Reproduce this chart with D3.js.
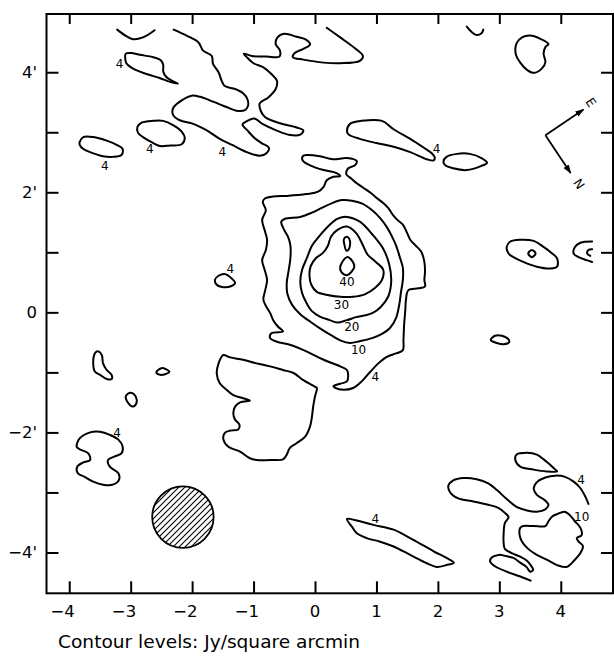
<!DOCTYPE html>
<html><head><meta charset="utf-8">
<script src="https://cdn.jsdelivr.net/npm/d3@7"></script>
<style>body{margin:0;background:#fff}svg{display:block}</style>
</head><body>
<svg id="chart" width="614" height="656"></svg>
<script>
// ---- axes ----
const xTicks = [-4,-3,-2,-1,0,1,2,3,4];
const xTickLabels = ["\u22124","\u22123","\u22122","\u22121","0","1","2","3","4"];
const yTicks = [-4,-3,-2,-1,0,1,2,3,4];
const yLabelValues = [4,2,0,-2,-4];
const yTickLabels = ["4'","2'","0","\u22122'","\u22124'"];
const caption = "Contour levels: Jy/square arcmin";

// ---- contours (offsets in arcmin) ----
const c4TopArc = [[-3.22,4.71],[-3.07,4.60],[-2.96,4.55],[-2.80,4.58],[-2.61,4.70]];
const c4TopLeftBlob = [[-3.08,4.31],[-2.99,4.32],[-2.85,4.29],[-2.63,4.25],[-2.51,4.20],[-2.47,4.12],[-2.47,4.01],[-2.42,3.92],[-2.33,3.86],[-2.23,3.81],[-2.36,3.84],[-2.52,3.90],[-2.74,3.97],[-2.96,4.06],[-3.07,4.15],[-3.09,4.25]];
const c4LeftBlob = [[-3.83,2.84],[-3.77,2.92],[-3.61,2.92],[-3.39,2.86],[-3.23,2.79],[-3.13,2.72],[-3.15,2.62],[-3.29,2.59],[-3.45,2.60],[-3.64,2.66],[-3.77,2.72],[-3.83,2.79]];
const c4MidBlob = [[-2.89,3.09],[-2.82,3.16],[-2.63,3.19],[-2.47,3.19],[-2.31,3.12],[-2.17,3.01],[-2.12,2.90],[-2.17,2.80],[-2.36,2.78],[-2.52,2.77],[-2.63,2.82],[-2.80,2.92],[-2.88,2.99]];
const c4Ridge = [[-2.30,4.71],[-2.09,4.61],[-1.90,4.50],[-1.82,4.36],[-1.68,4.27],[-1.66,4.14],[-1.57,4.00],[-1.52,3.86],[-1.47,3.77],[-1.30,3.72],[-1.17,3.65],[-1.10,3.55],[-1.09,3.44],[-1.14,3.37],[-1.28,3.36],[-1.44,3.42],[-1.66,3.51],[-1.87,3.59],[-2.01,3.61],[-2.20,3.51],[-2.31,3.40],[-2.31,3.29],[-2.20,3.20],[-1.98,3.14],[-1.76,3.03],[-1.55,2.89],[-1.33,2.78],[-1.11,2.67],[-0.90,2.61],[-0.79,2.65],[-0.75,2.74],[-0.87,2.82],[-0.98,2.90],[-1.10,3.03],[-1.18,3.13],[-1.10,3.19],[-0.99,3.23],[-0.84,3.13],[-0.65,3.04],[-0.43,2.96],[-0.24,2.96],[-0.19,3.03],[-0.30,3.08],[-0.57,3.15],[-0.81,3.25],[-0.88,3.35],[-0.90,3.48],[-0.76,3.58],[-0.64,3.72],[-0.62,3.86],[-0.71,3.97],[-0.84,4.08],[-1.00,4.15],[-1.10,4.24],[-1.16,4.31],[-1.03,4.27],[-0.79,4.26],[-0.58,4.26],[-0.57,4.36],[-0.64,4.47],[-0.61,4.58],[-0.50,4.64],[-0.30,4.59],[-0.14,4.54],[-0.08,4.46],[-0.19,4.39],[-0.34,4.31],[-0.36,4.25],[-0.19,4.21],[0.14,4.16],[0.41,4.15],[0.73,4.19],[0.78,4.27],[0.65,4.40],[0.41,4.58],[0.19,4.74]];
const c4RidgeEast = [[0.52,3.03],[0.57,3.14],[0.76,3.19],[1.09,3.19],[1.28,3.05],[1.55,2.89],[1.76,2.75],[1.90,2.65],[1.95,2.58],[1.93,2.53],[1.82,2.55],[1.55,2.67],[1.28,2.76],[1.00,2.82],[0.73,2.89],[0.54,2.97]];
const c4EastOval = [[2.09,2.51],[2.14,2.59],[2.31,2.64],[2.52,2.64],[2.71,2.57],[2.80,2.49],[2.71,2.44],[2.47,2.37],[2.25,2.40],[2.12,2.45]];
const c4NorthEastBlob = [[3.28,4.48],[3.37,4.58],[3.50,4.61],[3.66,4.56],[3.80,4.47],[3.75,4.42],[3.72,4.31],[3.75,4.17],[3.69,4.06],[3.56,3.99],[3.45,4.04],[3.34,4.16],[3.27,4.29]];
const c4TopHook = [[2.47,4.76],[2.55,4.67],[2.63,4.62],[2.71,4.65],[2.74,4.71]];
const c4Core = [[-0.20,2.60],[-0.13,2.62],[0.08,2.60],[0.29,2.55],[0.52,2.57],[0.68,2.52],[0.65,2.45],[0.54,2.40],[0.51,2.30],[0.59,2.23],[0.68,2.15],[0.78,2.08],[0.92,1.98],[1.01,1.90],[1.11,1.82],[1.19,1.74],[1.27,1.62],[1.34,1.54],[1.43,1.46],[1.50,1.32],[1.55,1.21],[1.64,1.11],[1.73,1.01],[1.78,0.84],[1.79,0.67],[1.78,0.54],[1.79,0.43],[1.68,0.40],[1.52,0.37],[1.48,0.21],[1.47,0.04],[1.45,-0.21],[1.44,-0.46],[1.43,-0.63],[1.33,-0.68],[1.17,-0.74],[1.03,-0.85],[0.90,-0.99],[0.76,-1.15],[0.62,-1.26],[0.46,-1.29],[0.33,-1.26],[0.30,-1.23],[0.41,-1.19],[0.52,-1.15],[0.54,-1.07],[0.52,-0.96],[0.41,-0.90],[0.14,-0.79],[-0.14,-0.65],[-0.41,-0.54],[-0.62,-0.49],[-0.73,-0.43],[-0.71,-0.35],[-0.52,-0.32],[-0.60,-0.24],[-0.68,-0.13],[-0.73,-0.01],[-0.79,0.09],[-0.84,0.21],[-0.81,0.37],[-0.78,0.54],[-0.82,0.71],[-0.86,0.87],[-0.80,1.04],[-0.78,1.21],[-0.82,1.37],[-0.86,1.54],[-0.80,1.70],[-0.85,1.84],[-0.81,1.90],[-0.68,1.93],[-0.46,1.94],[-0.14,1.97],[0.05,2.01],[0.14,2.09],[0.19,2.20],[0.30,2.26],[0.41,2.27],[0.35,2.32],[0.14,2.37],[-0.08,2.45],[-0.20,2.53]];
const c10Core = [[-0.55,1.51],[-0.49,1.56],[-0.24,1.59],[-0.05,1.66],[0.11,1.74],[0.28,1.82],[0.44,1.87],[0.60,1.86],[0.77,1.81],[0.93,1.70],[1.06,1.57],[1.17,1.42],[1.25,1.27],[1.32,1.11],[1.38,0.92],[1.43,0.74],[1.43,0.54],[1.40,0.34],[1.37,0.12],[1.32,-0.09],[1.22,-0.26],[1.09,-0.36],[0.93,-0.43],[0.73,-0.48],[0.57,-0.51],[0.42,-0.47],[0.26,-0.38],[0.10,-0.28],[-0.07,-0.16],[-0.24,-0.03],[-0.37,0.12],[-0.45,0.31],[-0.46,0.49],[-0.43,0.69],[-0.40,0.91],[-0.40,1.11],[-0.44,1.26],[-0.50,1.37]];
const c20Core = [[0.52,1.59],[0.73,1.51],[0.94,1.29],[1.11,1.06],[1.21,0.79],[1.24,0.51],[1.19,0.26],[1.07,0.09],[0.94,-0.01],[0.81,-0.05],[0.67,-0.08],[0.52,-0.13],[0.36,-0.17],[0.24,-0.13],[0.08,-0.07],[-0.05,0.02],[-0.14,0.16],[-0.21,0.32],[-0.24,0.51],[-0.21,0.71],[-0.13,0.91],[-0.05,1.11],[0.07,1.27],[0.24,1.46],[0.37,1.56]];
const c30Core = [[0.52,1.43],[0.67,1.32],[0.77,1.14],[0.85,0.97],[0.99,0.84],[1.11,0.71],[1.09,0.54],[0.98,0.41],[0.81,0.30],[0.62,0.26],[0.41,0.26],[0.20,0.29],[0.03,0.34],[-0.06,0.46],[-0.09,0.61],[-0.07,0.77],[0.02,0.91],[0.13,0.99],[0.21,1.11],[0.26,1.26],[0.36,1.37]];
const c40Peak = [[0.41,0.76],[0.52,0.92],[0.61,0.85],[0.64,0.76],[0.58,0.66],[0.52,0.62],[0.43,0.67]];
const c40Spur = [[0.47,1.22],[0.52,1.26],[0.56,1.22],[0.57,1.12],[0.54,1.04],[0.51,1.03],[0.48,1.12]];
const c4SouthLobe = [[-1.49,-0.71],[-1.38,-0.75],[-1.17,-0.79],[-0.95,-0.85],[-0.73,-0.90],[-0.52,-0.96],[-0.35,-1.01],[-0.19,-1.13],[0.00,-1.24],[0.03,-1.26],[0.00,-1.40],[-0.03,-1.57],[-0.05,-1.74],[-0.08,-1.90],[-0.16,-2.07],[-0.30,-2.18],[-0.41,-2.26],[-0.46,-2.37],[-0.52,-2.45],[-0.68,-2.46],[-0.95,-2.46],[-1.06,-2.43],[-1.22,-2.32],[-1.41,-2.24],[-1.49,-2.12],[-1.47,-2.01],[-1.38,-1.97],[-1.25,-1.95],[-1.23,-1.87],[-1.30,-1.79],[-1.33,-1.68],[-1.30,-1.57],[-1.22,-1.50],[-1.06,-1.47],[-1.17,-1.43],[-1.33,-1.38],[-1.44,-1.29],[-1.55,-1.18],[-1.60,-1.01],[-1.57,-0.85],[-1.52,-0.74]];
const c4WestSpotA = [[-3.58,-0.68],[-3.53,-0.65],[-3.47,-0.71],[-3.45,-0.85],[-3.39,-0.96],[-3.31,-1.04],[-3.31,-1.11],[-3.39,-1.11],[-3.50,-1.04],[-3.58,-0.99],[-3.61,-0.85]];
const c4WestSpotB = [[-2.58,-0.99],[-2.50,-0.93],[-2.42,-0.95],[-2.37,-0.99],[-2.44,-1.03],[-2.52,-1.04],[-2.58,-1.01]];
const c4WestSpotC = [[-3.08,-1.40],[-3.01,-1.34],[-2.95,-1.36],[-2.90,-1.46],[-2.92,-1.54],[-2.97,-1.57],[-3.04,-1.51]];
const c4WestPair = [[-3.88,-2.24],[-3.83,-2.10],[-3.66,-2.00],[-3.50,-1.99],[-3.34,-2.04],[-3.20,-2.12],[-3.13,-2.24],[-3.15,-2.35],[-3.26,-2.40],[-3.37,-2.46],[-3.34,-2.57],[-3.20,-2.68],[-3.19,-2.79],[-3.29,-2.87],[-3.45,-2.87],[-3.61,-2.82],[-3.75,-2.74],[-3.86,-2.68],[-3.87,-2.57],[-3.77,-2.50],[-3.66,-2.46],[-3.69,-2.35],[-3.83,-2.28]];
const c4NearCore = [[-1.63,0.54],[-1.57,0.61],[-1.47,0.64],[-1.36,0.57],[-1.30,0.49],[-1.38,0.43],[-1.49,0.42],[-1.60,0.46]];
const c4EastRing = [[3.12,1.09],[3.18,1.18],[3.34,1.21],[3.56,1.19],[3.72,1.09],[3.86,0.98],[3.94,0.90],[3.94,0.76],[3.83,0.73],[3.61,0.76],[3.39,0.84],[3.23,0.92],[3.15,0.98]];
const c4EastRingDot = [[3.47,0.98],[3.53,1.04],[3.59,0.98],[3.53,0.92]];
const c4EdgeArc = [[4.51,1.18],[4.32,1.16],[4.23,1.09],[4.21,0.98],[4.29,0.92],[4.42,0.87],[4.51,0.84]];
const c4EdgeArcInner = [[4.51,1.05],[4.45,1.04],[4.43,0.98],[4.48,0.94]];
const c4EastSpot = [[2.86,-0.46],[2.93,-0.39],[3.04,-0.39],[3.15,-0.45],[3.16,-0.50],[3.07,-0.53],[2.96,-0.51]];
const c4SouthEastBlob = [[3.26,-2.46],[3.28,-2.37],[3.45,-2.34],[3.61,-2.37],[3.77,-2.49],[3.91,-2.62],[3.94,-2.65],[3.77,-2.65],[3.56,-2.62],[3.34,-2.57]];
const c4SouthEastChain = [[4.45,-3.19],[4.40,-3.07],[4.32,-2.93],[4.21,-2.82],[4.07,-2.74],[3.91,-2.72],[3.75,-2.75],[3.62,-2.82],[3.56,-2.93],[3.61,-3.04],[3.73,-3.12],[3.80,-3.21],[3.75,-3.28],[3.61,-3.32],[3.45,-3.30],[3.28,-3.24],[3.12,-3.11],[2.96,-2.96],[2.82,-2.85],[2.63,-2.78],[2.42,-2.76],[2.25,-2.80],[2.17,-2.89],[2.20,-3.00],[2.33,-3.10],[2.58,-3.15],[2.80,-3.20],[2.99,-3.26],[3.09,-3.34],[3.15,-3.41],[3.09,-3.51],[3.07,-3.68],[3.07,-3.84],[3.09,-3.94],[3.20,-4.01],[3.34,-4.07],[3.44,-4.13],[3.51,-4.21],[3.55,-4.29],[3.50,-4.32],[3.44,-4.24],[3.34,-4.17],[3.23,-4.09],[3.11,-4.06],[2.99,-4.04],[2.88,-4.08],[2.85,-4.15],[2.93,-4.23],[3.12,-4.32],[3.34,-4.40],[3.51,-4.47]];
const c10SouthEast = [[3.34,-3.59],[3.39,-3.56],[3.56,-3.56],[3.75,-3.56],[3.80,-3.48],[3.86,-3.40],[3.94,-3.36],[4.06,-3.32],[4.14,-3.37],[4.23,-3.48],[4.32,-3.59],[4.34,-3.71],[4.26,-3.76],[4.29,-3.82],[4.36,-3.89],[4.32,-4.01],[4.23,-4.12],[4.10,-4.24],[3.94,-4.21],[3.77,-4.12],[3.61,-4.04],[3.47,-3.94],[3.37,-3.82],[3.33,-3.71]];
const c4SouthStreak = [[0.52,-3.44],[0.65,-3.46],[0.95,-3.54],[1.28,-3.62],[1.60,-3.79],[1.93,-3.98],[2.14,-4.09],[2.26,-4.17],[2.14,-4.21],[1.98,-4.24],[1.82,-4.18],[1.55,-4.04],[1.28,-3.90],[1.06,-3.82],[0.84,-3.76],[0.68,-3.68],[0.60,-3.57]];

const contourLines = [
  {level:4, closed:false, points:c4TopArc},
  {level:4, closed:true,  points:c4TopLeftBlob},
  {level:4, closed:true,  points:c4LeftBlob},
  {level:4, closed:true,  points:c4MidBlob},
  {level:4, closed:false, points:c4Ridge},
  {level:4, closed:true,  points:c4RidgeEast},
  {level:4, closed:true,  points:c4EastOval},
  {level:4, closed:true,  points:c4NorthEastBlob},
  {level:4, closed:false, points:c4TopHook},
  {level:4, closed:true,  points:c4Core},
  {level:10, closed:true, points:c10Core},
  {level:20, closed:true, points:c20Core},
  {level:30, closed:true, points:c30Core},
  {level:40, closed:true, points:c40Peak},
  {level:40, closed:true, points:c40Spur},
  {level:4, closed:true,  points:c4SouthLobe},
  {level:4, closed:true,  points:c4WestSpotA},
  {level:4, closed:true,  points:c4WestSpotB},
  {level:4, closed:true,  points:c4WestSpotC},
  {level:4, closed:true,  points:c4WestPair},
  {level:4, closed:true,  points:c4NearCore},
  {level:4, closed:true,  points:c4EastRing},
  {level:4, closed:true,  points:c4EastRingDot},
  {level:4, closed:false, points:c4EdgeArc},
  {level:4, closed:false, points:c4EdgeArcInner},
  {level:4, closed:true,  points:c4EastSpot},
  {level:4, closed:true,  points:c4SouthEastBlob},
  {level:4, closed:false, points:c4SouthEastChain},
  {level:10, closed:true, points:c10SouthEast},
  {level:4, closed:true,  points:c4SouthStreak}
];

// contour labels: text and position (arcmin)
const labelTexts = ["4","4","4","4","4","4","40","30","20","10","4","4","4","4","10"];
const labelX = [-3.18,-3.42,-2.69,-1.51,1.98,-1.38,0.52,0.43,0.60,0.71,0.98,-3.22,0.98,4.33,4.34];
const labelY = [4.14,2.44,2.72,2.67,2.72,0.72,0.50,0.12,-0.24,-0.63,-1.08,-2.01,-3.44,-2.80,-3.41];

// beam (hatched circle), arcmin
const beamCenter = [-2.15,-3.41];
const beamRadius = 0.5;

// orientation arrows, arcmin
const compassOrigin = [3.75,2.95];
const compassTips = [[4.37,3.38],[4.16,2.32]];
const compassLetters = ["E","N"];
const compassLetterPos = [[4.49,3.50],[4.30,2.14]];

// ---- drawing ----
const svg = d3.select("#chart");
const x = d3.scaleLinear().domain([-4.37, 4.85]).range([46.5, 613]);
const y = d3.scaleLinear().domain([-4.68, 4.97]).range([593.3, 14]);
const FONT = "'DejaVu Sans', sans-serif";

const defs = svg.append("defs");
defs.append("pattern").attr("id","hatch").attr("patternUnits","userSpaceOnUse")
  .attr("width",6).attr("height",6)
  .append("path").attr("d","M-1,1 L1,-1 M0,6 L6,0 M5,7 L7,5")
  .attr("stroke","#000").attr("stroke-width",1.1);
defs.append("marker").attr("id","arrow").attr("viewBox","0 0 10 10")
  .attr("refX",9).attr("refY",5).attr("markerWidth",9).attr("markerHeight",9)
  .attr("markerUnits","userSpaceOnUse").attr("orient","auto")
  .append("path").attr("d","M0,1.5 L10,5 L0,8.5 Z").attr("fill","#000");
defs.append("clipPath").attr("id","plotclip").append("rect")
  .attr("x",x.range()[0]).attr("y",y.range()[1])
  .attr("width",x.range()[1]-x.range()[0]).attr("height",y.range()[0]-y.range()[1]);

const plot = svg.append("g").attr("clip-path","url(#plotclip)");

const lineOpen = d3.line().x(d=>x(d[0])).y(d=>y(d[1])).curve(d3.curveCatmullRom.alpha(0.5));
const lineClosed = d3.line().x(d=>x(d[0])).y(d=>y(d[1])).curve(d3.curveCatmullRomClosed.alpha(0.5));

plot.selectAll("path.contour").data(contourLines).join("path")
  .attr("class","contour")
  .attr("d", d => (d.closed ? lineClosed : lineOpen)(d.points))
  .attr("fill","none").attr("stroke","#000").attr("stroke-width",2)
  .attr("stroke-linejoin","round").attr("stroke-linecap","round");

// contour labels
plot.selectAll("text.clabel").data(labelTexts).join("text")
  .attr("class","clabel")
  .attr("x",(d,i)=>x(labelX[i])).attr("y",(d,i)=>y(labelY[i]))
  .attr("text-anchor","middle").attr("dominant-baseline","central")
  .attr("font-family",FONT).attr("font-size",12).attr("fill","#000")
  .text(d=>d);

// beam
plot.append("circle")
  .attr("cx",x(beamCenter[0])).attr("cy",y(beamCenter[1]))
  .attr("r",x(beamCenter[0]+beamRadius)-x(beamCenter[0]))
  .attr("fill","url(#hatch)").attr("stroke","#000").attr("stroke-width",1.8);

// compass
compassTips.forEach(t=>{
  plot.append("line")
    .attr("x1",x(compassOrigin[0])).attr("y1",y(compassOrigin[1]))
    .attr("x2",x(t[0])).attr("y2",y(t[1]))
    .attr("stroke","#000").attr("stroke-width",1.8).attr("marker-end","url(#arrow)");
});
plot.selectAll("text.compass").data(compassLetters).join("text")
  .attr("class","compass")
  .attr("transform",(d,i)=>`translate(${x(compassLetterPos[i][0])},${y(compassLetterPos[i][1])}) rotate(56)`)
  .attr("text-anchor","middle").attr("dominant-baseline","central")
  .attr("font-family",FONT).attr("font-size",12.5).attr("fill","#000")
  .text(d=>d);

// axes (ticks pointing inward)
const tickStyle = g => { g.select(".domain").remove(); g.selectAll(".tick line").attr("stroke","#000").attr("stroke-width",2); g.selectAll(".tick text").remove(); };
svg.append("g").attr("transform",`translate(0,${y.range()[0]})`)
  .call(d3.axisBottom(x).tickValues(xTicks).tickSizeInner(-12).tickSizeOuter(0)).call(tickStyle);
svg.append("g").attr("transform",`translate(0,${y.range()[1]})`)
  .call(d3.axisTop(x).tickValues(xTicks).tickSizeInner(-10).tickSizeOuter(0)).call(tickStyle);
svg.append("g").attr("transform",`translate(${x.range()[0]},0)`)
  .call(d3.axisLeft(y).tickValues(yTicks).tickSizeInner(-12).tickSizeOuter(0)).call(tickStyle);
svg.append("g").attr("transform",`translate(${x.range()[1]},0)`)
  .call(d3.axisRight(y).tickValues(yTicks).tickSizeInner(-12).tickSizeOuter(0)).call(tickStyle);

// frame
svg.append("rect")
  .attr("x",x.range()[0]).attr("y",y.range()[1])
  .attr("width",x.range()[1]-x.range()[0]).attr("height",y.range()[0]-y.range()[1])
  .attr("fill","none").attr("stroke","#000").attr("stroke-width",2);

// tick labels
svg.selectAll("text.xlab").data(xTicks).join("text")
  .attr("class","xlab")
  .attr("x",d=> d<0 ? x(d)+5.5 : x(d))
  .attr("y",y.range()[0]+24)
  .attr("text-anchor",d=> d<0 ? "end" : "middle")
  .attr("font-family",FONT).attr("font-size",16.5).attr("fill","#000")
  .text((d,i)=>xTickLabels[i]);
svg.selectAll("text.ylab").data(yLabelValues).join("text")
  .attr("class","ylab")
  .attr("x",37).attr("y",d=>y(d)+6)
  .attr("text-anchor","end")
  .attr("font-family",FONT).attr("font-size",16.5).attr("fill","#000")
  .text((d,i)=>yTickLabels[i]);

// caption
svg.append("text").attr("x",58).attr("y",648)
  .attr("font-family",FONT).attr("font-size",17).attr("fill","#000")
  .attr("textLength",302).attr("lengthAdjust","spacingAndGlyphs")
  .text(caption);
</script>
</body></html>
